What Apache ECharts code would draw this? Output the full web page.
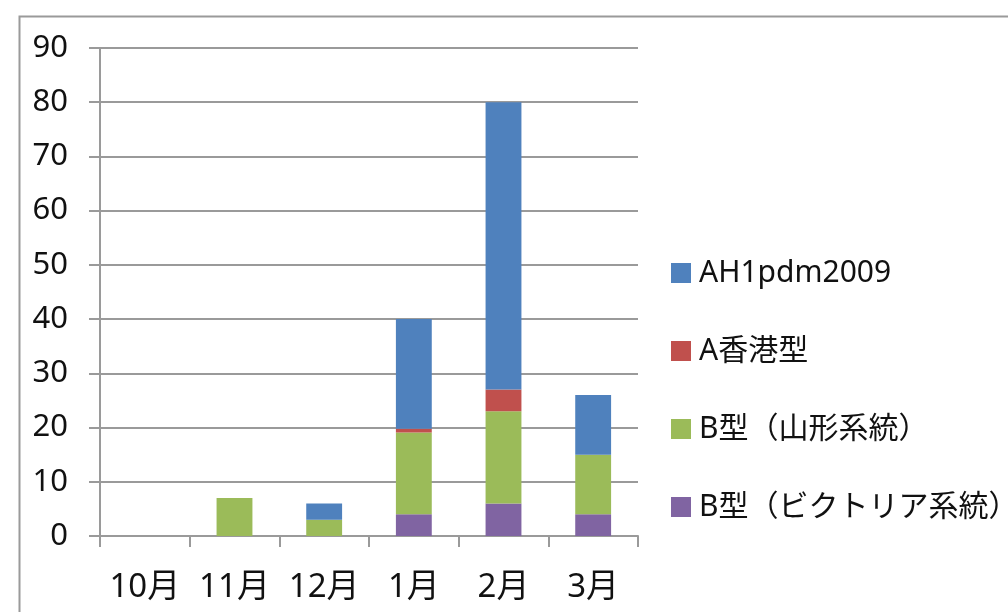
<!DOCTYPE html>
<html>
<head>
<meta charset="utf-8">
<script src="https://cdn.jsdelivr.net/npm/echarts@6/dist/echarts.min.js"></script>
<style>html,body{margin:0;padding:0;background:#fff}#c{width:1008px;height:612px}</style>
</head>
<body>
<div id="c"></div>
<script>
var categories = ['10月', '11月', '12月', '1月', '2月', '3月'];
var victoria = [0, 0, 0, 4, 6, 4];
var yamagata = [0, 7, 3, 15.1, 17, 11];
var hongkong = [0, 0, 0, 0.7, 4, 0];
var ah1pdm = [0, 0, 3, 20.2, 53, 11];
var yTicks = [0, 90, 10];

var FONT = "'Noto Sans', 'Noto Sans CJK JP', sans-serif";
var chart = echarts.init(document.getElementById('c'));
function s(name, data, color) {
  return { name: name, type: 'bar', stack: 'a', data: data, barWidth: '40%',
    itemStyle: { color: color }, emphasis: { disabled: true } };
}
chart.setOption({
  animation: false,
  graphic: [{ type: 'rect', left: 17, top: 14, shape: { width: 1100, height: 700 },
    style: { fill: 'none', stroke: '#9a9a9a', lineWidth: 2 }, silent: true }],
  grid: { left: 100, right: 370, top: 48, bottom: 76, containLabel: false },
  legend: {
    orient: 'vertical', left: 666, top: 252,
    data: ['AH1pdm2009', 'A香港型', 'B型（山形系統）', 'B型（ビクトリア系統）'],
    icon: 'rect', itemWidth: 20, itemHeight: 20, itemGap: 46,
    textStyle: { fontSize: 30, fontFamily: FONT, color: '#111', lineHeight: 32, padding: [0, 0, 0, 3] },
    selectedMode: false
  },
  xAxis: {
    type: 'category', data: categories,
    axisLine: { lineStyle: { color: '#9a9a9a', width: 2 } },
    axisTick: { show: true, length: 11, lineStyle: { color: '#9a9a9a', width: 2 } },
    axisLabel: { fontSize: 33, fontFamily: FONT, color: '#111', margin: 35, interval: 0 }
  },
  yAxis: {
    type: 'value', min: yTicks[0], max: yTicks[1], interval: yTicks[2],
    axisLine: { show: true, lineStyle: { color: '#9a9a9a', width: 2 } },
    axisTick: { show: true, length: 11, lineStyle: { color: '#9a9a9a', width: 2 } },
    splitLine: { lineStyle: { color: '#9a9a9a', width: 2 } },
    axisLabel: { fontSize: 31, fontFamily: FONT, color: '#111', margin: 32 }
  },
  series: [
    s('B型（ビクトリア系統）', victoria, '#8064A2'),
    s('B型（山形系統）', yamagata, '#9BBB59'),
    s('A香港型', hongkong, '#C0504D'),
    s('AH1pdm2009', ah1pdm, '#4F81BD')
  ]
});
</script>
</body>
</html>
